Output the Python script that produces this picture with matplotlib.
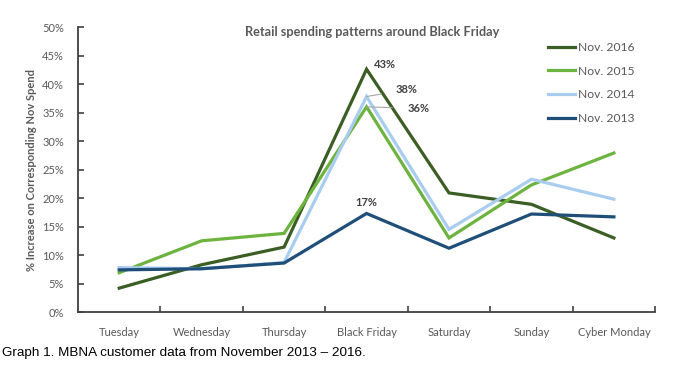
import matplotlib.pyplot as plt

# datos
dias = ["Tuesday", "Wednesday", "Thursday", "Black Friday", "Saturday", "Sunday", "Cyber Monday"]
nov2016 = [4.2, 8.3, 11.4, 42.6, 20.9, 18.9, 13.0]
nov2015 = [6.9, 12.5, 13.8, 36.0, 13.0, 22.3, 27.9]
nov2014 = [7.8, 7.6, 8.7, 37.8, 14.5, 23.3, 19.8]
nov2013 = [7.4, 7.6, 8.6, 17.3, 11.2, 17.2, 16.7]
series = ["Nov. 2016", "Nov. 2015", "Nov. 2014", "Nov. 2013"]
colores = ["#3B5E25", "#6DB33F", "#A9CDEE", "#1F4E79"]

plt.rcParams['font.family'] = ['Lato', 'DejaVu Sans']
gris = "#595959"

fig = plt.figure(figsize=(6.74, 3.65), dpi=100)
ax = fig.add_axes([0.1157, 0.145, 0.8563, 0.781])

x = list(range(len(dias)))
for nombre, datos, c in zip(series, [nov2016, nov2015, nov2014, nov2013], colores):
    ax.plot(x, datos, color=c, lw=2.3, label=nombre, solid_joinstyle="miter")

# etiquetas de los picos
bf = dias.index("Black Friday")
ax.annotate("43%", xy=(bf, nov2016[bf]), xytext=(bf + 0.22, nov2016[bf] + 0.9),
            fontsize=8, fontweight="bold", color="#404040", ha="center", va="center")
ax.annotate("38%", xy=(bf, nov2014[bf]), xytext=(bf + 0.48, nov2014[bf] + 1.2),
            fontsize=8, fontweight="bold", color="#404040", ha="center", va="center",
            arrowprops=dict(arrowstyle="-", color="#A6A6A6", lw=0.8, shrinkA=8, shrinkB=0))
ax.annotate("36%", xy=(bf, nov2015[bf]), xytext=(bf + 0.63, nov2015[bf] - 0.3),
            fontsize=8, fontweight="bold", color="#404040", ha="center", va="center",
            arrowprops=dict(arrowstyle="-", color="#A6A6A6", lw=0.8, shrinkA=9, shrinkB=0))
ax.annotate("17%", xy=(bf, nov2013[bf]), xytext=(bf, nov2013[bf] + 1.9),
            fontsize=8, fontweight="bold", color="#404040", ha="center", va="center")

ax.set_xlim(-0.5, 6.5)
ax.set_ylim(0, 50)
ax.set_xticks(x)
ax.set_xticklabels(dias, color=gris, fontsize=8)
ax.set_xticks([i + 0.5 for i in x], minor=True)
ax.tick_params(axis="x", which="major", length=0, pad=11)
ax.tick_params(axis="x", which="minor", direction="in", length=4, width=1.2, color="#404040")
ax.set_yticks(range(0, 51, 5))
ax.set_yticklabels([f"{v}%" for v in range(0, 51, 5)], color=gris, fontsize=8)
ax.tick_params(axis="y", direction="in", length=4, width=1.2, color="#404040", pad=10)

for s in ["top", "right"]:
    ax.spines[s].set_visible(False)
for s in ["left", "bottom"]:
    ax.spines[s].set_color("#404040")
    ax.spines[s].set_linewidth(1.3)

ax.set_ylabel("% Increase on Corresponding Nov Spend", fontsize=8, fontweight="bold",
              color=gris, labelpad=4)
# titulo dentro del area del grafico
fig.text(0.552, 0.912, "Retail spending patterns around Black Friday", fontsize=9.2,
         fontweight="bold", color=gris, ha="center", va="center")

leg = ax.legend(loc="upper left", bbox_to_anchor=(0.806, 0.965), frameon=False,
                fontsize=8.7, handlelength=2.25, handletextpad=0.2, labelspacing=1.05,
                borderaxespad=0)
for t in leg.get_texts():
    t.set_color(gris)

fig.text(0.003, 0.025, "Graph 1. MBNA customer data from November 2013 \u2013 2016.",
         fontsize=9.7, family="Liberation Sans", color="black")

fig.savefig("out.png", dpi=100)
